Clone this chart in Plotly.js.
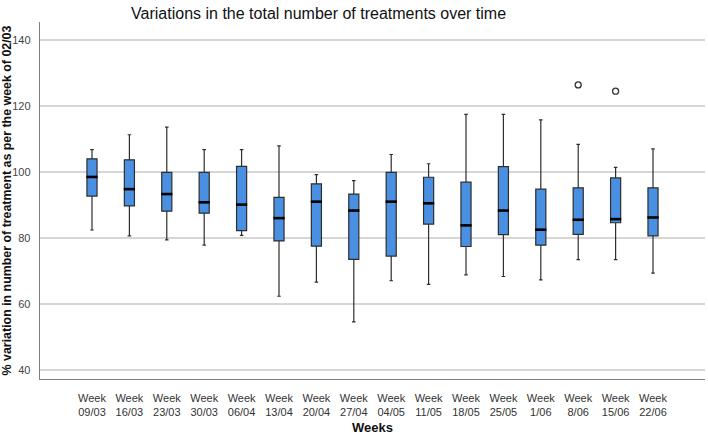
<!DOCTYPE html>
<html>
<head>
<meta charset="utf-8">
<script src="https://cdn.plot.ly/plotly-3.0.1.min.js"></script>
<style>html,body{margin:0;padding:0;background:#fff;}#chart{width:708px;height:435px;}</style>
</head>
<body>
<div id="chart"></div>
<script>
const weeks = ["Week<br>09/03","Week<br>16/03","Week<br>23/03","Week<br>30/03","Week<br>06/04","Week<br>13/04","Week<br>20/04","Week<br>27/04","Week<br>04/05","Week<br>11/05","Week<br>18/05","Week<br>25/05","Week<br>1/06","Week<br>8/06","Week<br>15/06","Week<br>22/06"];
const upperWhisker = [106.8,111.3,113.6,106.8,106.8,107.9,99.2,97.4,105.3,102.5,117.5,117.5,115.8,108.4,101.4,107.0];
const q3 = [104.0,103.7,99.9,99.9,101.7,92.3,96.4,93.3,99.9,98.4,96.9,101.6,94.8,95.2,98.2,95.2];
const medians = [98.5,94.8,93.3,90.8,90.1,86.0,91.0,88.3,91.0,90.5,83.8,88.3,82.5,85.5,85.7,86.2];
const q1 = [92.7,89.7,88.1,87.5,82.2,79.1,77.5,73.5,74.5,84.2,77.4,81.0,77.8,81.1,84.6,80.6];
const lowerWhisker = [82.4,80.6,79.4,77.8,80.8,62.3,66.6,54.5,67.0,65.9,68.8,68.3,67.3,73.4,73.4,69.3];
const outlierWeeks = ["Week<br>8/06","Week<br>15/06"];
const outlierValues = [126.4,124.5];

const traces = [
  {
    type: "box",
    x: weeks,
    q1: q1, median: medians, q3: q3,
    lowerfence: lowerWhisker, upperfence: upperWhisker,
    width: 0.27,
    whiskerwidth: 0.35,
    fillcolor: "rgb(74,144,226)",
    line: {color: "#2e2e2e", width: 1.2},
    boxpoints: false,
    hoverinfo: "skip",
    showlegend: false
  },
  {
    type: "scatter", mode: "markers",
    x: weeks, y: medians,
    marker: {symbol: "line-ew", size: 8, line: {color: "#000", width: 2.6}},
    hoverinfo: "skip", showlegend: false
  },
  {
    type: "scatter", mode: "markers",
    x: outlierWeeks, y: outlierValues,
    marker: {symbol: "circle-open", size: 6, color: "#333", line: {width: 1.3, color: "#333"}},
    hoverinfo: "skip", showlegend: false
  }
];

const layout = {
  width: 708, height: 435,
  margin: {l: 40, r: 3, t: 22, b: 56},
  paper_bgcolor: "#fff", plot_bgcolor: "#fff",
  font: {family: "Arial, 'Liberation Sans', sans-serif", color: "#222"},
  title: {text: "Variations in the total number of treatments over time", x: 0.45, xanchor: "center", y: 0.97, yanchor: "middle", font: {size: 16, color: "#111"}},
  xaxis: {
    type: "category",
    categoryorder: "array", categoryarray: weeks,
    range: [-1.39, 16.39],
    showgrid: false, zeroline: false,
    showline: true, linecolor: "#7f7f7f", linewidth: 1.3,
    ticks: "", ticklabelstandoff: 8,
    tickfont: {size: 11, color: "#333"},
    title: {text: "<b>Weeks</b>", font: {size: 13, color: "#111"}, standoff: 7}
  },
  yaxis: {
    range: [37.2, 145.5],
    tickvals: [40,60,80,100,120,140],
    showgrid: true, gridcolor: "#d6d6d6", gridwidth: 1.5,
    zeroline: false,
    showline: true, linecolor: "#7f7f7f", linewidth: 1.3,
    ticks: "", ticklabelstandoff: 6,
    tickfont: {size: 11, color: "#444"},
    title: {text: "<b>% variation in number of treatment as per the week of 02/03</b>", font: {size: 12.4, color: "#111"}, standoff: 5}
  }
};

Plotly.newPlot("chart", traces, layout, {displayModeBar: false, staticPlot: true});
</script>
</body>
</html>
